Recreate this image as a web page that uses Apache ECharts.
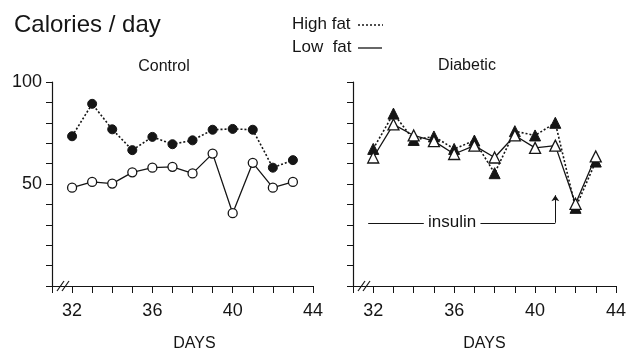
<!DOCTYPE html>
<html>
<head>
<meta charset="utf-8">
<script src="https://cdn.jsdelivr.net/npm/echarts@6/dist/echarts.min.js"></script>
<style>
  html, body { margin: 0; padding: 0; background: #fff; }
  #container { width: 629px; height: 353px; }
</style>
</head>
<body>
<div id="container"></div>
<script>
var days = [32, 33, 34, 35, 36, 37, 38, 39, 40, 41, 42, 43];
var controlHigh = [73.4, 89.3, 76.8, 66.6, 73.1, 69.5, 71.4, 76.6, 77, 76.6, 58, 61.7];
var controlLow = [48.2, 51, 50.2, 55.7, 58, 58.4, 55.2, 64.9, 35.7, 60.4, 48.2, 51];
var diabeticHigh = [67.2, 84.5, 71.6, 73.3, 67.2, 71.3, 55.3, 75.9, 73.8, 80, 38.3, 61];
var diabeticLow = [63, 79.2, 73.8, 71, 64.7, 68.8, 63, 73.8, 67.7, 68.8, 40.3, 63.5];
var xLabels = [32, 36, 40, 44];
var yLabels = [50, 100];

var ink = '#151515';
var font = '"Liberation Sans", Arial, sans-serif';

function pairs(vals) {
    return days.map(function (d, i) { return [d, vals[i]]; });
}

var dom = document.getElementById('container');
var myChart = echarts.init(dom);

function xAxisFor(gi) {
    return {
        gridIndex: gi, type: 'value', min: 31, max: 44, interval: 1,
        axisLine: { lineStyle: { color: ink, width: 1.2 } },
        axisTick: { length: 7, lineStyle: { color: ink } },
        splitLine: { show: false },
        axisLabel: {
            color: ink, fontFamily: font, fontSize: 18, margin: 16,
            formatter: function (v) { return xLabels.indexOf(v) >= 0 ? String(v) : ''; }
        },
        name: 'DAYS', nameLocation: 'middle', nameGap: 50,
        nameTextStyle: {
            color: ink, fontFamily: font, fontSize: 16,
            padding: gi === 0 ? [0, 0, 0, 24] : 0
        }
    };
}
function yAxisFor(gi) {
    return {
        gridIndex: gi, type: 'value', min: 0, max: 100, interval: 10,
        axisLine: { show: true, lineStyle: { color: ink, width: 1.2 } },
        axisTick: { show: true, length: 6, lineStyle: { color: ink } },
        splitLine: { show: false },
        axisLabel: {
            show: gi === 0, color: ink, fontFamily: font, fontSize: 18, margin: 10,
            formatter: function (v) { return yLabels.indexOf(v) >= 0 ? String(v) : ''; }
        }
    };
}

function highSeries(gi, vals, sym) {
    return {
        type: 'line', xAxisIndex: gi, yAxisIndex: gi, data: pairs(vals),
        symbol: sym, symbolSize: sym === 'circle' ? 9 : 11,
        lineStyle: { color: ink, width: 1.6, type: [2, 2] },
        itemStyle: { color: ink, borderColor: ink, borderWidth: 1 },
        animation: false, z: 3
    };
}
function lowSeries(gi, vals, sym) {
    return {
        type: 'line', xAxisIndex: gi, yAxisIndex: gi, data: pairs(vals),
        symbol: sym, symbolSize: sym === 'circle' ? 9 : 11,
        lineStyle: { color: ink, width: 1.3 },
        itemStyle: { color: '#fff', borderColor: ink, borderWidth: 1.3 },
        animation: false, z: 4
    };
}

var dLow = lowSeries(1, diabeticLow, 'triangle');
dLow.markLine = {
    silent: true, animation: false,
    symbol: ['none', 'none'],
    label: { show: false },
    lineStyle: { color: ink, width: 1, type: 'solid' },
    data: [
        [{ coord: [31.75, 31] }, { coord: [34.5, 31] }],
        [{ coord: [37.3, 31] }, { coord: [41, 31] }],
        [{ coord: [41, 31], symbol: 'none' }, { coord: [41, 44.5], symbol: 'arrow', symbolSize: 6 }]
    ]
};
dLow.markPoint = {
    silent: true, animation: false, symbol: 'circle', symbolSize: 0,
    label: { show: true, color: ink, fontFamily: font, fontSize: 17, position: 'inside' },
    data: [{ coord: [35.9, 31], value: 'insulin' }]
};

var option = {
    backgroundColor: '#fff',
    animation: false,
    title: [
        { text: 'Calories / day', left: 9, top: 8, textStyle: { color: ink, fontFamily: font, fontSize: 24, fontWeight: 'normal' } },
        { text: 'Control', left: 159, top: 54, textAlign: 'center', textStyle: { color: ink, fontFamily: font, fontSize: 16, fontWeight: 'normal' } },
        { text: 'Diabetic', left: 462, top: 53, textAlign: 'center', textStyle: { color: ink, fontFamily: font, fontSize: 16, fontWeight: 'normal' } }
    ],
    grid: [
        { left: 52, right: 316, top: 82, bottom: 67, outerBoundsMode: 'none' },
        { left: 353, right: 13, top: 82, bottom: 67, outerBoundsMode: 'none' }
    ],
    xAxis: [xAxisFor(0), xAxisFor(1)],
    yAxis: [yAxisFor(0), yAxisFor(1)],
    series: [
        highSeries(0, controlHigh, 'circle'),
        lowSeries(0, controlLow, 'circle'),
        highSeries(1, diabeticHigh, 'triangle'),
        dLow
    ],
    graphic: [
        { type: 'text', left: 292, top: 16, style: { text: 'High fat', fill: ink, font: '17px ' + font } },
        { type: 'line', shape: { x1: 358, y1: 25, x2: 383, y2: 25 }, style: { stroke: ink, lineWidth: 1.3, lineDash: [2, 2] } },
        { type: 'text', left: 292, top: 39, style: { text: 'Low  fat', fill: ink, font: '17px ' + font } },
        { type: 'line', shape: { x1: 358, y1: 48, x2: 382, y2: 48 }, style: { stroke: ink, lineWidth: 1.3 } }
    ]
};

myChart.setOption(option);

// axis-break marks just right of each origin
var breaks = [];
[0, 1].forEach(function (gi) {
    var p = myChart.convertToPixel({ gridIndex: gi }, [31, 0]);
    [0, 5].forEach(function (dx) {
        breaks.push({
            type: 'line',
            shape: { x1: p[0] + 5 + dx, y1: p[1] + 5, x2: p[0] + 12 + dx, y2: p[1] - 5 },
            style: { stroke: ink, lineWidth: 1.2 }
        });
    });
});
myChart.setOption({ graphic: option.graphic.concat(breaks) });
</script>
</body>
</html>
